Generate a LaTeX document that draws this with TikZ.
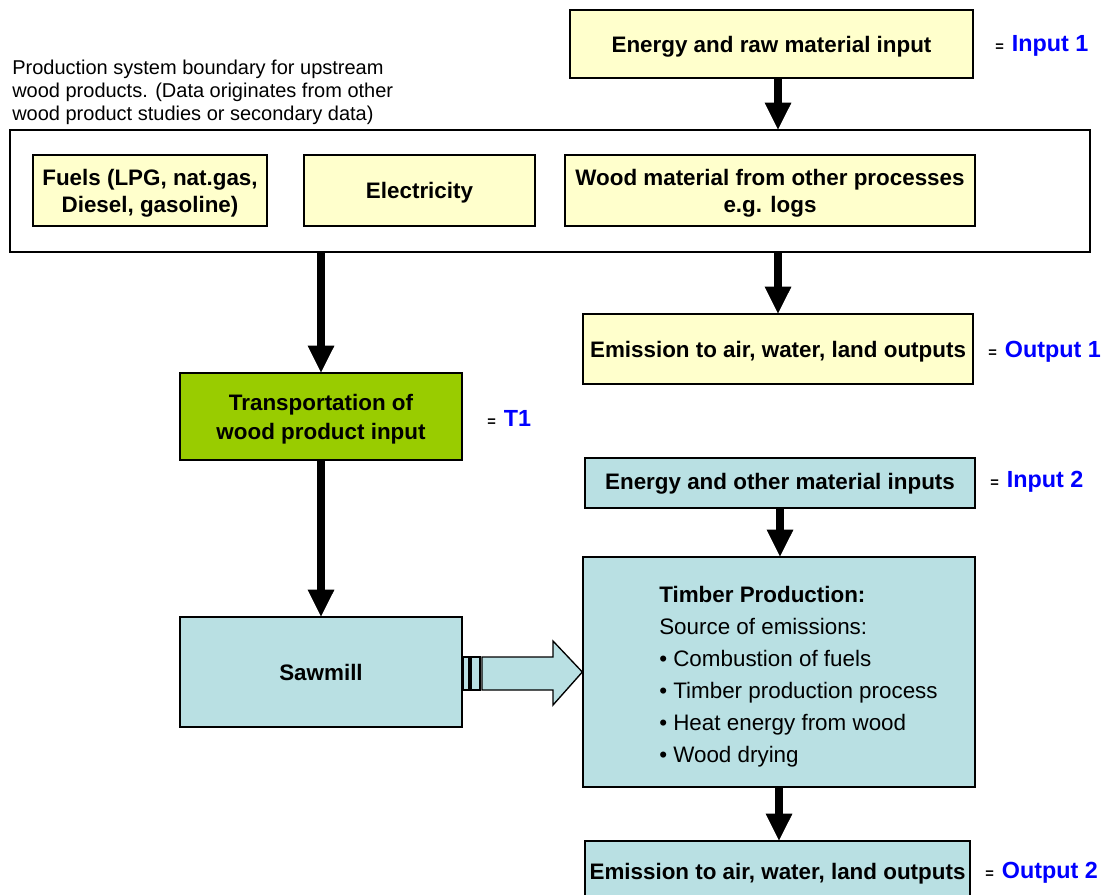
\documentclass[tikz,border=0pt]{standalone}
\usepackage{fontspec}
\setmainfont{Liberation Sans}
\usetikzlibrary{arrows.meta,fit}
\definecolor{ylw}{HTML}{FFFFCC}
\definecolor{grn}{HTML}{99CC00}
\definecolor{blu}{HTML}{B9E0E3}
\definecolor{lblu}{HTML}{0000FF}
\newcommand{\bx}{\fontsize{16.8}{21}\selectfont\bfseries}
\begin{document}
\begin{tikzpicture}[x=0.75pt,y=-0.75pt,
  box/.style={draw=black, line width=1pt, inner sep=0pt},
  ybox/.style={box, fill=ylw},
  gbox/.style={box, fill=grn},
  bbox/.style={box, fill=blu},
  wbox/.style={box, fill=white},
  btx/.style={inner sep=0pt, align=center, font=\bx},
  down/.style={yshift=-#1*0.75pt},
  arr/.style={line width=6pt, -{Triangle[width=20pt,length=20pt,line width=0.5pt]}},
  lab/.style={anchor=west, inner sep=0pt}
]
\useasboundingbox (0,0) rectangle (1105,894);
\fill[white] (0,0) rectangle (1105,894);

% top input
\node[ybox, fit={(570,10) (973,78)}] (in1) {};
\node[btx, down=3] at (in1.center) (in1t) {Energy and raw material input};
\node[lab] (in1l) at (995,46) {\textbf{\fontsize{11}{13}\selectfont =}\hspace{6pt}{\fontsize{17.5}{20}\selectfont\bfseries\color{lblu}Input 1}};

% boundary text
\node[anchor=north west, inner sep=0pt, align=left, font=\fontsize{15}{17.25}\selectfont] (btext) at (12,60)
  {Production system boundary for upstream\\wood products. (Data originates from other\\wood product studies or secondary data)};

% boundary box
\node[wbox, fit={(10,130) (1090,252)}] (bound) {};
\node[ybox, fit={(33,155) (267,226)}] (fuel) {};
\node[btx, down=3, font=\fontsize{16.8}{20.25}\selectfont\bfseries] at (fuel.center) (fuelt) {Fuels (LPG, nat.gas,\\Diesel, gasoline)};
\node[ybox, fit={(304,155) (535,226)}] (elec) {};
\node[btx, down=2] at (elec.center) (elect) {Electricity};
\node[ybox, fit={(565,155) (975,226)}] (wood) {};
\node[btx, down=3, font=\fontsize{16.8}{20.25}\selectfont\bfseries] at (wood.center) (woodt) {Wood material from other processes\\e.g. logs};

% emission 1
\node[ybox, fit={(583,314) (973,384)}] (em1) {};
\node[btx, down=3] at (em1.center) (em1t) {Emission to air, water, land outputs};
\node[lab] (em1l) at (988,352) {\textbf{\fontsize{11}{13}\selectfont =}\hspace{6pt}{\fontsize{17.5}{20}\selectfont\bfseries\color{lblu}Output 1}};

% transportation
\node[gbox, fit={(180,373) (462,460)}] (trans) {};
\node[btx, down=3, font=\fontsize{16.8}{21.75}\selectfont\bfseries] at (trans.center) (transt) {Transportation of\\wood product input};
\node[lab] (transl) at (487,418) {\textbf{\fontsize{11}{13}\selectfont =}\hspace{6pt}{\fontsize{17.5}{20}\selectfont\bfseries\color{lblu}T1}};

% input 2
\node[bbox, fit={(585,458) (975,508)}] (in2) {};
\node[btx, down=1] at (in2.center) (in2t) {Energy and other material inputs};
\node[lab] (in2l) at (990,482) {\textbf{\fontsize{11}{13}\selectfont =}\hspace{6pt}{\fontsize{17.5}{20}\selectfont\bfseries\color{lblu}Input 2}};

% sawmill
\node[bbox, fit={(180,617) (462,727)}] (saw) {};
\node[btx] at (saw.center) (sawt) {Sawmill};

% timber
\node[bbox, fit={(583,557) (975,787)}] (timber) {};
\node[anchor=north west, inner sep=0pt, align=left, font=\fontsize{16.8}{24}\selectfont] (timbert) at (659,586)
  {\textbf{Timber Production:}\\Source of emissions:\\• Combustion of fuels\\• Timber production process\\• Heat energy from wood\\• Wood drying};

% emission 2
\node[bbox, fit={(585,841) (970,902)}] (em2) {};
\node[btx] at (777.5,874) (em2t) {Emission to air, water, land outputs};
\node[lab] (em2l) at (985,873) {\textbf{\fontsize{11}{13}\selectfont =}\hspace{6pt}{\fontsize{17.5}{20}\selectfont\bfseries\color{lblu}Output 2}};

% arrows
\draw[arr] (in1.south -| em1.north) -- (bound.north -| em1.north);
\draw[arr] (bound.south -| em1.north) -- (em1.north);
\draw[arr] (bound.south -| trans.north) -- (trans.north);
\draw[arr] (trans.south) -- (saw.north);
\draw[arr] (in2.south) -- (in2.south |- timber.north);
\draw[arr] (timber.south) -- (timber.south |- em2.north);

% block arrow
\draw[fill=blu, line width=1pt] (463,657) rectangle (469,690);
\draw[fill=blu, line width=1pt] (471,657) rectangle (480,690);
\draw[fill=blu, line width=1pt, line join=miter] (482,657) -- (553,657) -- (553,641) -- (timber.west |- saw.east) -- (553,705) -- (553,690) -- (482,690) -- cycle;
\end{tikzpicture}
\end{document}
